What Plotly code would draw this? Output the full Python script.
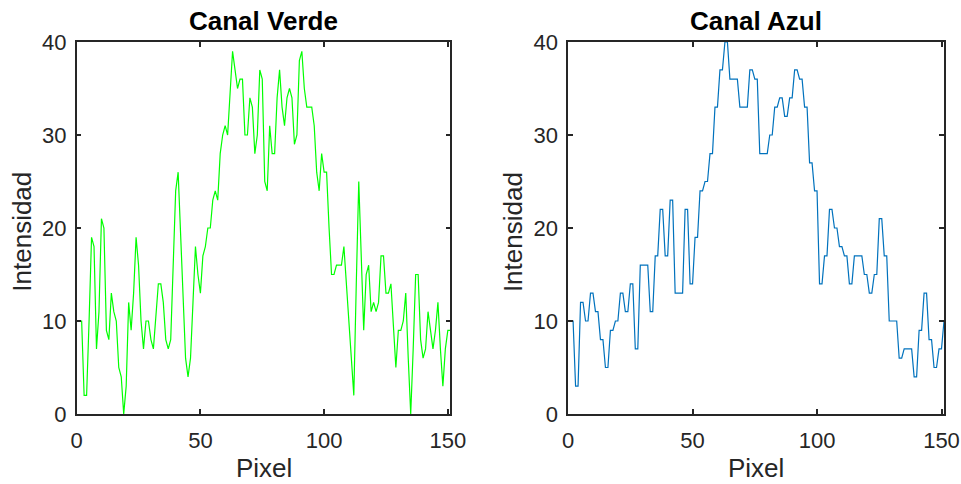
import plotly.graph_objects as go

# Intensity profile along a line of pixels, green and blue channels
pixel = list(range(0, 152))

canal_verde = [
    10, 10, 10, 2, 2, 10, 19, 18, 7, 11,
    21, 20, 9, 8, 13, 11, 10, 5, 4, 0,
    3, 12, 9, 13, 19, 16, 10, 7, 10, 10,
    8, 7, 11, 14, 14, 12, 8, 7, 8, 15,
    24, 26, 19, 12, 6, 4, 6, 12, 18, 15,
    13, 17, 18, 20, 20, 23, 24, 23, 28, 30,
    31, 30, 34, 39, 37, 35, 36, 36, 30, 30,
    34, 33, 28, 30, 37, 36, 25, 24, 31, 28,
    28, 34, 37, 33, 31, 34, 35, 34, 29, 30,
    38, 39, 35, 33, 33, 33, 31, 26, 24, 28,
    26, 26, 20, 15, 15, 16, 16, 16, 18, 14,
    10, 6, 2, 14, 25, 17, 9, 15, 16, 11,
    12, 11, 12, 17, 17, 13, 13, 14, 9, 5,
    9, 9, 10, 13, 6, 0, 7, 15, 15, 8,
    6, 7, 11, 9, 7, 9, 12, 7, 3, 7,
    9, 9,
]

canal_azul = [
    10, 10, 10, 3, 3, 12, 12, 10, 10, 13,
    13, 11, 11, 8, 8, 5, 5, 9, 9, 10,
    10, 13, 13, 11, 11, 14, 14, 7, 7, 16,
    16, 16, 16, 11, 11, 17, 17, 22, 22, 17,
    17, 23, 23, 13, 13, 13, 13, 22, 22, 14,
    14, 19, 19, 24, 24, 25, 25, 28, 28, 33,
    33, 37, 37, 40, 40, 36, 36, 36, 36, 33,
    33, 33, 33, 37, 37, 36, 36, 28, 28, 28,
    28, 30, 30, 33, 33, 34, 34, 32, 32, 34,
    34, 37, 37, 36, 36, 33, 33, 27, 27, 24,
    24, 14, 14, 17, 17, 22, 22, 20, 20, 18,
    18, 17, 17, 14, 14, 17, 17, 17, 17, 15,
    15, 13, 13, 15, 15, 21, 21, 17, 17, 10,
    10, 10, 10, 6, 6, 7, 7, 7, 7, 4,
    4, 9, 9, 13, 13, 8, 8, 5, 5, 7,
    7, 10,
]

x_ticks = [0, 50, 100, 150]
y_ticks = [0, 10, 20, 30, 40]
titulos = ["Canal Verde", "Canal Azul"]
etiqueta_x = "Pixel"
etiqueta_y = "Intensidad"

W, H = 961, 484
INK = "#262626"
FONT = "Liberation Sans, Arial, sans-serif"

# axes boxes in pixels: (left, right), shared top/bottom
boxes = [(76.7, 450.3), (568.1, 944.0)]
top, bottom = 42.0, 414.0
ydom = [1 - bottom / H, 1 - top / H]

fig = go.Figure()
fig.add_trace(go.Scatter(x=pixel, y=canal_verde, mode="lines",
                         line=dict(color="#00FF00", width=1.2),
                         xaxis="x", yaxis="y", showlegend=False))
fig.add_trace(go.Scatter(x=pixel, y=canal_azul, mode="lines",
                         line=dict(color="#0072BD", width=1.2),
                         xaxis="x2", yaxis="y2", showlegend=False))

axis_common = dict(
    showline=True, mirror="ticks", linecolor=INK, linewidth=1.5,
    ticks="inside", ticklen=5, tickwidth=1.5, tickcolor=INK,
    showgrid=False, zeroline=False, automargin=False,
    tickfont=dict(family=FONT, size=22, color=INK),
)

layout = dict(
    template="none",
    width=W, height=H,
    margin=dict(l=0, r=0, t=0, b=0, pad=0),
    paper_bgcolor="white", plot_bgcolor="white",
    showlegend=False,
    annotations=[],
)

for i, (l, r) in enumerate(boxes):
    sfx = "" if i == 0 else str(i + 1)
    xdom = [l / W, r / W]
    layout["xaxis" + sfx] = dict(domain=xdom, range=[0, 151], tickvals=x_ticks,
                                 anchor="y" + sfx, ticklabelstandoff=6,
                                 **axis_common)
    layout["yaxis" + sfx] = dict(domain=ydom, range=[0, 40], tickvals=y_ticks,
                                 anchor="x" + sfx, ticklabelstandoff=4,
                                 **axis_common)
    cx = (l + r) / 2 / W
    layout["annotations"] += [
        dict(text="<b>%s</b>" % titulos[i], x=cx, y=1 - 21 / H, xref="paper", yref="paper",
             xanchor="center", yanchor="middle", showarrow=False,
             font=dict(family=FONT, size=26, color="black")),
        dict(text=etiqueta_x, x=cx, y=0, xref="paper", yref="paper",
             xanchor="center", yanchor="bottom", showarrow=False, borderpad=0,
             font=dict(family=FONT, size=26, color=INK)),
        dict(text=etiqueta_y, x=(l - 55) / W, y=1 - 232 / H,
             xref="paper", yref="paper", textangle=-90,
             xanchor="center", yanchor="middle", showarrow=False,
             font=dict(family=FONT, size=26, color=INK)),
    ]

fig.update_layout(**layout)
fig.write_html("out.html")
